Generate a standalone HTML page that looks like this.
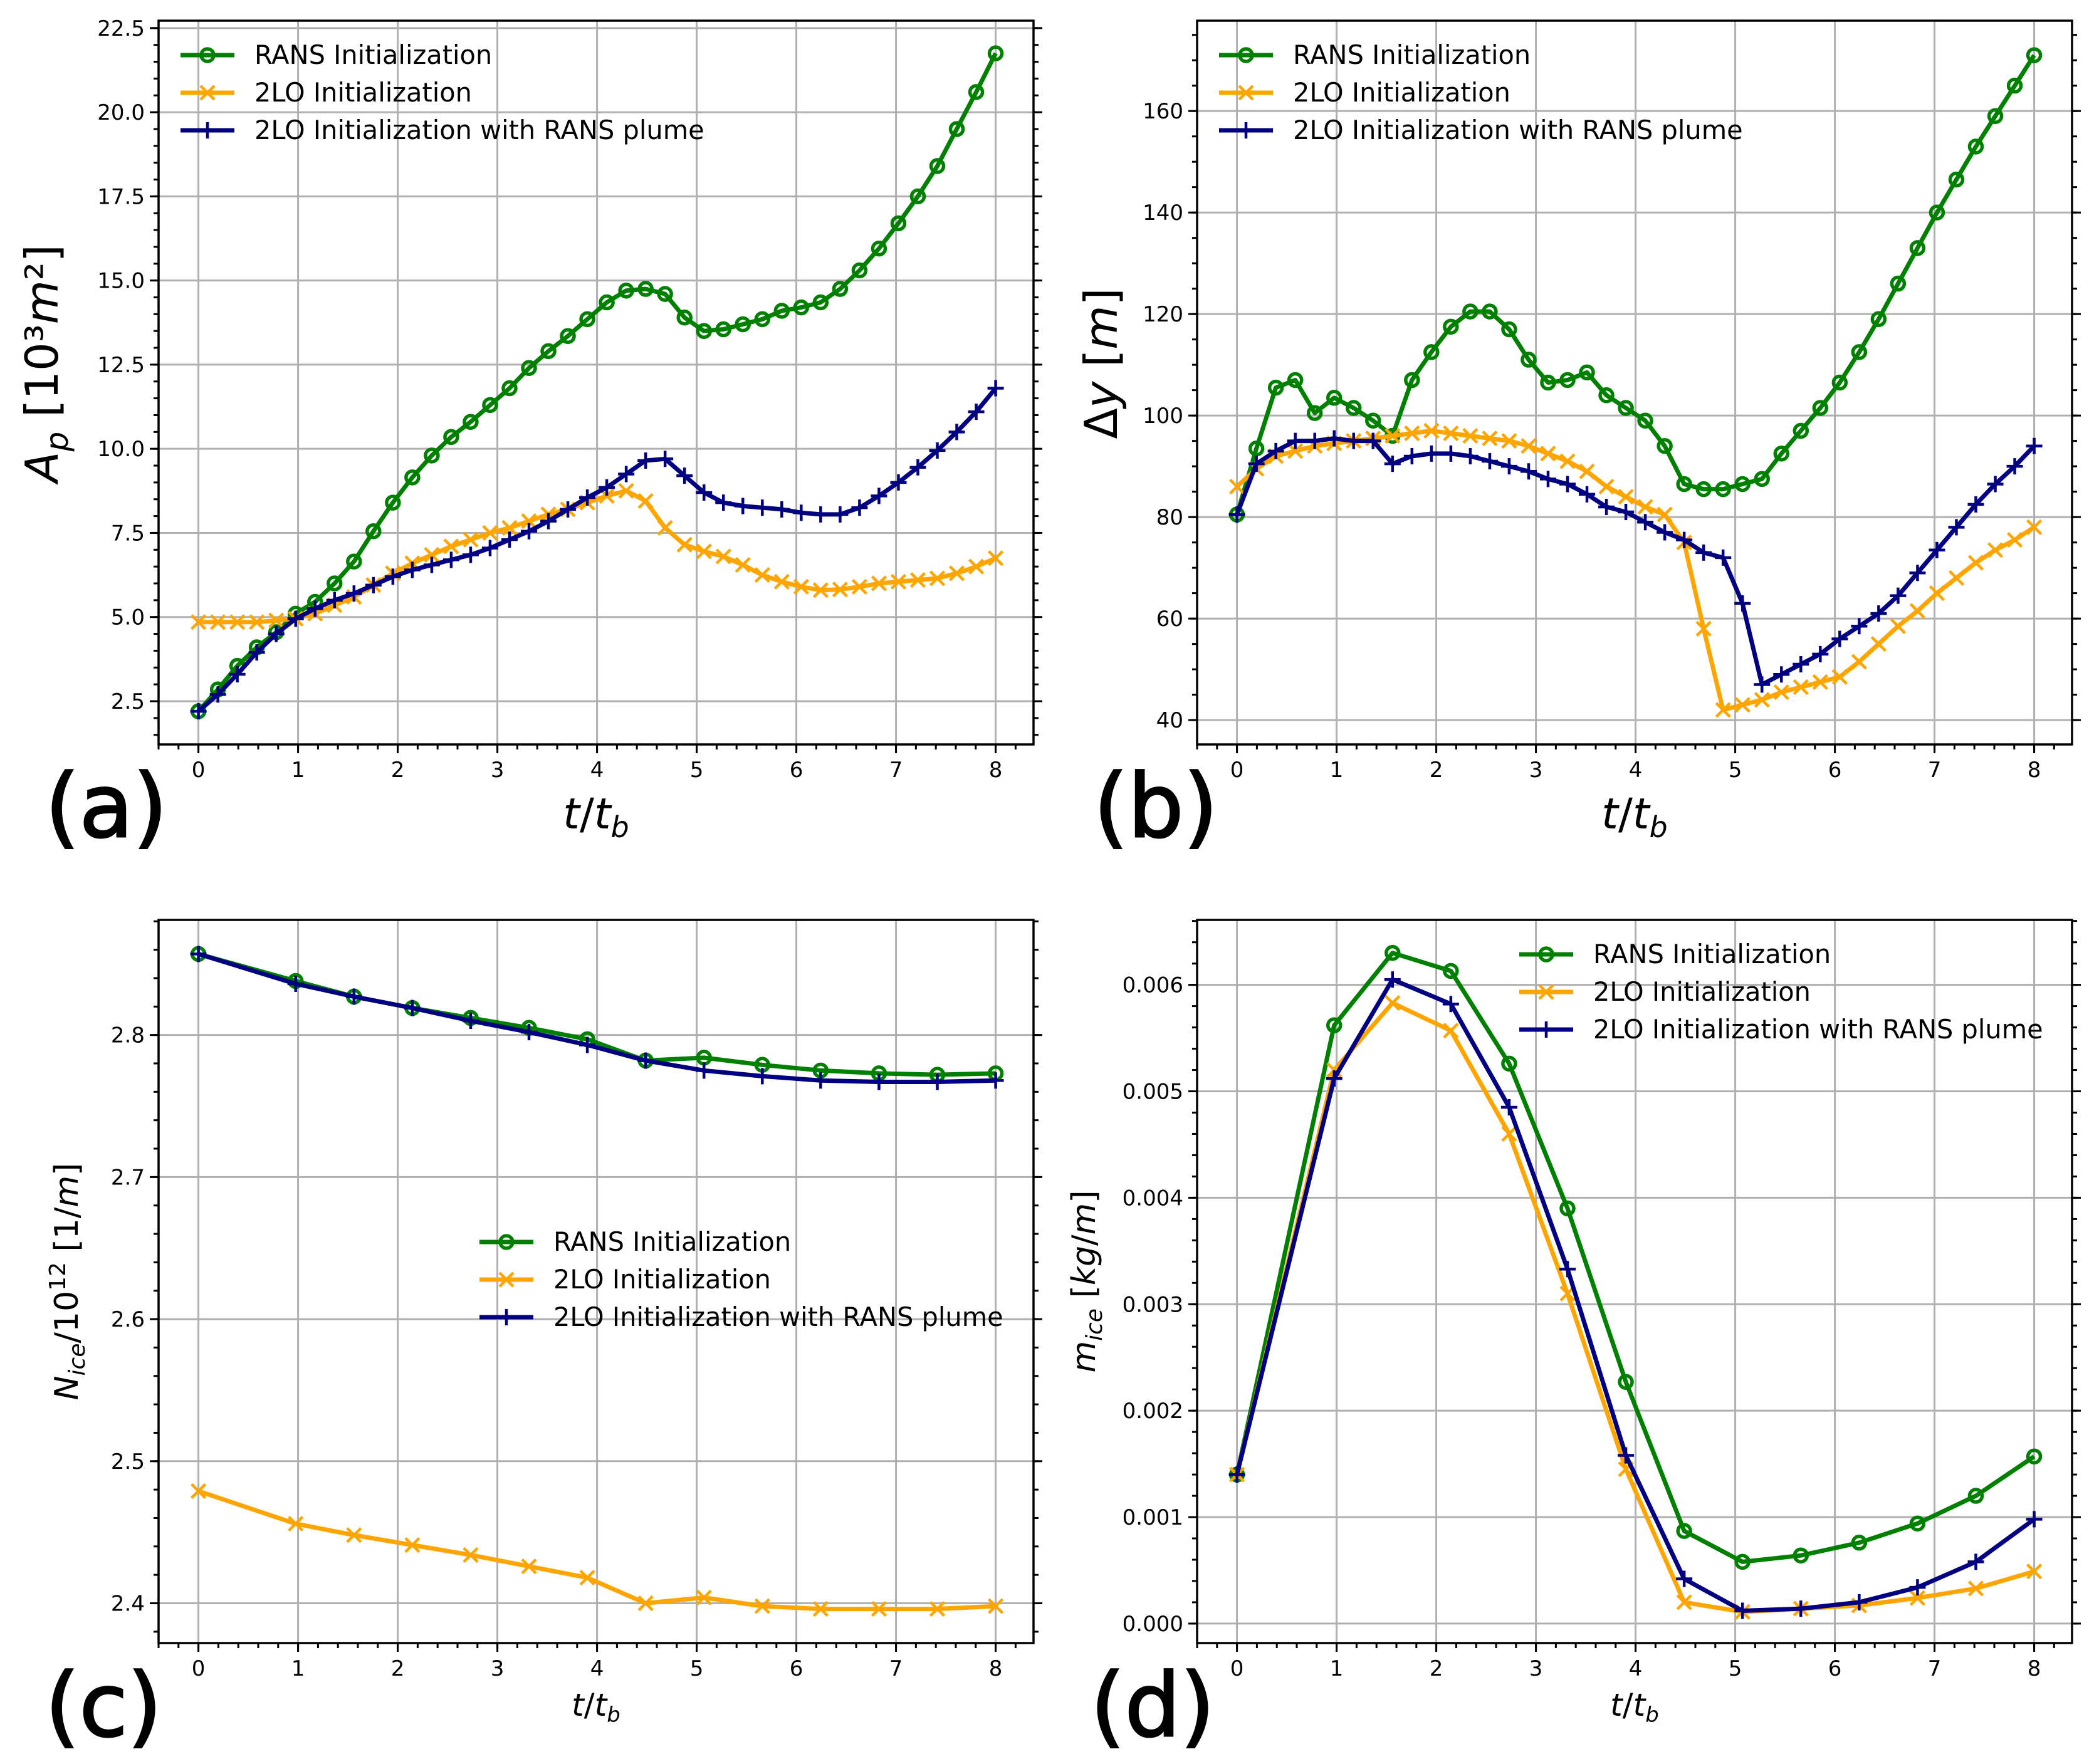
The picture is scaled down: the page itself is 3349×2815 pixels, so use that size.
<!DOCTYPE html>
<html><head><meta charset="utf-8">
<style>
html,body{margin:0;padding:0;background:#fff;}
svg{display:block;font-family:"DejaVu Sans","Liberation Sans",sans-serif;}
</style></head>
<body>
<svg id="fig" width="3349" height="2815" viewBox="0 0 3349 2815" xmlns="http://www.w3.org/2000/svg"></svg>
<script>
// ---------- data ----------
const tFine = Array.from({length:42},(_,i)=>i*8/41);
const coarseIdx = [0,5,8,11,14,17,20,23,26,29,32,35,38,41];
const tCoarse = coarseIdx.map(i=>i*8/41);

const apRans = [2.2,2.85,3.55,4.1,4.55,5.1,5.45,6.0,6.65,7.55,8.4,9.15,9.8,10.35,10.8,11.3,11.8,12.4,12.9,13.35,13.85,14.35,14.7,14.75,14.6,13.9,13.5,13.55,13.7,13.85,14.1,14.2,14.35,14.75,15.3,15.95,16.7,17.5,18.4,19.5,20.6,21.75];
const ap2lo = [4.85,4.85,4.85,4.85,4.9,4.95,5.1,5.35,5.6,5.95,6.3,6.6,6.85,7.1,7.3,7.5,7.65,7.85,8.05,8.2,8.4,8.6,8.75,8.45,7.65,7.15,6.95,6.8,6.55,6.25,6.05,5.9,5.8,5.82,5.9,6.0,6.05,6.1,6.15,6.3,6.5,6.75];
const ap2loPlume = [2.2,2.7,3.3,3.95,4.5,4.95,5.25,5.5,5.7,5.95,6.2,6.4,6.55,6.7,6.85,7.05,7.3,7.55,7.85,8.2,8.55,8.85,9.25,9.65,9.7,9.2,8.7,8.4,8.3,8.25,8.2,8.1,8.05,8.05,8.25,8.6,9.0,9.45,9.95,10.5,11.1,11.8];

const dyRans = [80.5,93.5,105.5,107,100.5,103.5,101.5,99,96,107,112.5,117.5,120.5,120.5,117,111,106.5,107,108.5,104,101.5,99,94,86.5,85.5,85.5,86.5,87.5,92.5,97,101.5,106.5,112.5,119,126,133,140,146.5,153,159,165,171];
const dy2lo = [86,89.5,92,93,94,94.5,95,95.5,96,96.5,97,96.5,96,95.5,95,94,92.5,91,89,86,84,82,80.5,75,58,42,43,44,45.5,46.5,47.5,48.5,51.5,55,58.5,61.5,65,68,71,73.5,75.5,78];
const dy2loPlume = [80.5,90.5,93,95,95,95.5,95,95,90.5,92,92.5,92.5,92,91,90,89,87.5,86.5,84.5,82,81,79,77,75.5,73,72,63,47,49,51,53,56,58.5,61,64.5,69,73.5,78,82.5,86.5,90,94];

const nRans = [2.857,2.838,2.827,2.819,2.812,2.805,2.797,2.782,2.784,2.779,2.775,2.773,2.772,2.773];
const n2lo = [2.479,2.456,2.448,2.441,2.434,2.426,2.418,2.400,2.404,2.398,2.396,2.396,2.396,2.398];
const n2loPlume = [2.857,2.836,2.827,2.819,2.810,2.802,2.793,2.782,2.775,2.771,2.768,2.767,2.767,2.768];

const mRans = [0.00140,0.00562,0.00630,0.00613,0.00526,0.00390,0.00227,0.00087,0.00058,0.00064,0.00076,0.00094,0.00120,0.00157];
const m2lo = [0.00140,0.00520,0.00583,0.00557,0.00460,0.00310,0.00145,0.00020,0.00011,0.00014,0.00017,0.00024,0.00033,0.00049];
const m2loPlume = [0.00140,0.00512,0.00605,0.00582,0.00485,0.00333,0.00158,0.00042,0.00012,0.00014,0.00020,0.00034,0.00058,0.00098];

const xTicks = [0,1,2,3,4,5,6,7,8];
const apTicks = [2.5,5.0,7.5,10.0,12.5,15.0,17.5,20.0,22.5];
const dyTicks = [40,60,80,100,120,140,160];
const nTicks = [2.4,2.5,2.6,2.7,2.8];
const mTicks = [0,0.001,0.002,0.003,0.004,0.005,0.006];

const seriesNames = ["RANS Initialization","2LO Initialization","2LO Initialization with RANS plume"];
const COLORS = ["#008000","#ffa500","#000080"];
const MARKS = ["o","x","+"];

// ---------- helpers ----------
const NS = "http://www.w3.org/2000/svg";
const fig = document.getElementById('fig');
function mk(tag, attrs, parent){
  const e = document.createElementNS(NS, tag);
  for (const k in attrs) e.setAttribute(k, attrs[k]);
  (parent||fig).appendChild(e);
  return e;
}

function panel(cfg){
  const g = mk('g',{});
  
  
  const L=cfg.L,R=cfg.R,T=cfg.T,B=cfg.B;
  const xs = v => L + (v - cfg.xmin)/(cfg.xmax-cfg.xmin)*(R-L);
  const ys = v => B - (v - cfg.ymin)/(cfg.ymax-cfg.ymin)*(B-T);
  const grid = mk('g',{stroke:'#b0b0b0','stroke-width':3},g);
  
  
  xTicks.forEach(v=>mk('line',{x1:xs(v),x2:xs(v),y1:T,y2:B},grid));
  cfg.yTicks.forEach(v=>mk('line',{x1:L,x2:R,y1:ys(v),y2:ys(v)},grid));
  const tk = mk('g',{stroke:'#000','stroke-width':3},g);
  
  
  for (let v=-0.4; v<=8.38; v+=0.2){
    const x=xs(Math.round(v*10)/10);
    if (x<L||x>R) continue;
    mk('line',{x1:x,x2:x,y1:B,y2:B+8},tk);
  }
  const yMinStart = cfg.yTicks[0] - Math.ceil((cfg.yTicks[0]-cfg.ymin)/cfg.ym)*cfg.ym;
  for (let v=yMinStart; v<=cfg.ymax+1e-12; v+=cfg.ym){
    const y=ys(v);
    if (y<T-0.5||y>B+0.5) continue;
    mk('line',{x1:L-8,x2:L,y1:y,y2:y},tk);
    mk('line',{x1:R,x2:R+8,y1:y,y2:y},tk);
  }
  xTicks.forEach(v=>{
    mk('line',{x1:xs(v),x2:xs(v),y1:B,y2:B+14},tk);
    const t=mk('text',{x:xs(v),y:B+52,'font-size':34,'text-anchor':'middle',fill:'#000',stroke:'none'},g);
    t.textContent=v;
    
    
  });
  cfg.yTicks.forEach(v=>{
    const y=ys(v);
    mk('line',{x1:L-14,x2:L,y1:y,y2:y},tk);
    mk('line',{x1:R,x2:R+14,y1:y,y2:y},tk);
    const t=mk('text',{x:L-22,y:y+12,'font-size':34,'text-anchor':'end',fill:'#000'},g);
    t.textContent=cfg.fmt(v);
    
    
  });
  cfg.series.forEach((s,si)=>{
    const sg = mk('g',{},g);
    
    
    const pts = s.map((v,i)=>xs(cfg.t[i]).toFixed(1)+','+ys(v).toFixed(1)).join(' ');
    const pl = mk('polyline',{points:pts,fill:'none',stroke:COLORS[si],'stroke-width':7,'stroke-linejoin':'round'},sg);
    
    
    s.forEach((v,i)=>{
      const m = marker(MARKS[si], xs(cfg.t[i]), ys(v), COLORS[si], sg);
      
      
    });
  });
  const fr = mk('rect',{x:L,y:T,width:R-L,height:B-T,fill:'none',stroke:'#000','stroke-width':3.5},g);
  
  
  const lg = mk('g',{},g);
  
  
  seriesNames.forEach((n,i)=>{
    const y = cfg.legY + i*60;
    const e = mk('g',{},lg);
    
    
    mk('line',{x1:cfg.legX,x2:cfg.legX+86,y1:y,y2:y,stroke:COLORS[i],'stroke-width':7},e);
    marker(MARKS[i], cfg.legX+43, y, COLORS[i], e);
    const t = mk('text',{x:cfg.legX+118,y:y+14,'font-size':41.5,fill:'#000'},e);
    t.textContent = n;
  });
  return {g,xs,ys};
}

function marker(type,x,y,c,parent){
  const g = mk('g',{},parent);
  if (type==='o') mk('circle',{cx:x,cy:y,r:10,fill:'none',stroke:c,'stroke-width':5.5},g);
  else if (type==='x'){
    mk('path',{d:`M${x-11},${y-11}L${x+11},${y+11}M${x-11},${y+11}L${x+11},${y-11}`,stroke:c,'stroke-width':4.5},g);
  } else {
    mk('path',{d:`M${x-13},${y}L${x+13},${y}M${x},${y-13}L${x},${y+13}`,stroke:c,'stroke-width':4.5},g);
  }
  return g;
}

function addText(txt,attrs,name,html){
  const t = mk('text',attrs);
  if (html) t.innerHTML = txt; else t.textContent = txt;
  
  
  return t;
}

panel({name:'panel-a',L:253,R:1649,T:33,B:1188,xmin:-0.4,xmax:8.38,ymin:1.215,ymax:22.72,
  yTicks:apTicks,ym:0.5,fmt:v=>v.toFixed(1),t:tFine,series:[apRans,ap2lo,ap2loPlume],legX:288,legY:88});
panel({name:'panel-b',L:1910,R:3306,T:33,B:1188,xmin:-0.4,xmax:8.38,ymin:35.2,ymax:177.8,
  yTicks:dyTicks,ym:5,fmt:v=>v,t:tFine,series:[dyRans,dy2lo,dy2loPlume],legX:1945,legY:88});
panel({name:'panel-c',L:253,R:1649,T:1468,B:2622,xmin:-0.4,xmax:8.38,ymin:2.372,ymax:2.881,
  yTicks:nTicks,ym:0.02,fmt:v=>v.toFixed(1),t:tCoarse,series:[nRans,n2lo,n2loPlume],legX:765,legY:1982});
panel({name:'panel-d',L:1910,R:3306,T:1468,B:2622,xmin:-0.4,xmax:8.38,ymin:-0.000183,ymax:0.00661,
  yTicks:mTicks,ym:0.0002,fmt:v=>v.toFixed(3),t:tCoarse,series:[mRans,m2lo,m2loPlume],legX:2424,legY:1523});

addText('<tspan font-style="italic">t</tspan>/<tspan font-style="italic">t</tspan><tspan font-size="46" dy="14" font-style="italic">b</tspan>',
  {x:951,y:1322,'font-size':68,'text-anchor':'middle'},'x-axis-title-a',true);
addText('<tspan font-style="italic">t</tspan>/<tspan font-style="italic">t</tspan><tspan font-size="46" dy="14" font-style="italic">b</tspan>',
  {x:2608,y:1322,'font-size':68,'text-anchor':'middle'},'x-axis-title-b',true);
addText('<tspan font-style="italic">t</tspan>/<tspan font-style="italic">t</tspan><tspan font-size="34" dy="10" font-style="italic">b</tspan>',
  {x:951,y:2738,'font-size':50,'text-anchor':'middle'},'x-axis-title-c',true);
addText('<tspan font-style="italic">t</tspan>/<tspan font-style="italic">t</tspan><tspan font-size="34" dy="10" font-style="italic">b</tspan>',
  {x:2608,y:2738,'font-size':50,'text-anchor':'middle'},'x-axis-title-d',true);

addText('<tspan font-style="italic">A</tspan><tspan font-size="50" dy="16" font-style="italic">p</tspan><tspan dy="-16"> [10³</tspan><tspan font-style="italic">m</tspan>²]',
  {x:0,y:0,'font-size':72,'text-anchor':'middle',transform:'translate(92,580) rotate(-90)'},'y-axis-title-a',true);
addText('Δ<tspan font-style="italic">y</tspan> [<tspan font-style="italic">m</tspan>]',
  {x:0,y:0,'font-size':72,'text-anchor':'middle',transform:'translate(1782,580) rotate(-90)'},'y-axis-title-b',true);
addText('<tspan font-style="italic">N</tspan><tspan font-size="36" dy="11" font-style="italic">ice</tspan><tspan dy="-11">/10</tspan><tspan font-size="36" dy="-20">12</tspan><tspan dy="20"> [1/</tspan><tspan font-style="italic">m</tspan>]',
  {x:0,y:0,'font-size':52,'text-anchor':'middle',transform:'translate(124,2045) rotate(-90)'},'y-axis-title-c',true);
addText('<tspan font-style="italic">m</tspan><tspan font-size="36" dy="11" font-style="italic">ice</tspan><tspan dy="-11"> [</tspan><tspan font-style="italic">kg</tspan>/<tspan font-style="italic">m</tspan>]',
  {x:0,y:0,'font-size':52,'text-anchor':'middle',transform:'translate(1747,2045) rotate(-90)'},'y-axis-title-d',true);

addText('(a)',{x:72,y:1335,'font-size':140,stroke:'#000','stroke-width':3},'panel-label-a');
addText('(b)',{x:1745,y:1335,'font-size':140,stroke:'#000','stroke-width':3},'panel-label-b');
addText('(c)',{x:72,y:2770,'font-size':140,stroke:'#000','stroke-width':3},'panel-label-c');
addText('(d)',{x:1740,y:2770,'font-size':140,stroke:'#000','stroke-width':3},'panel-label-d');
</script>
</body></html>
